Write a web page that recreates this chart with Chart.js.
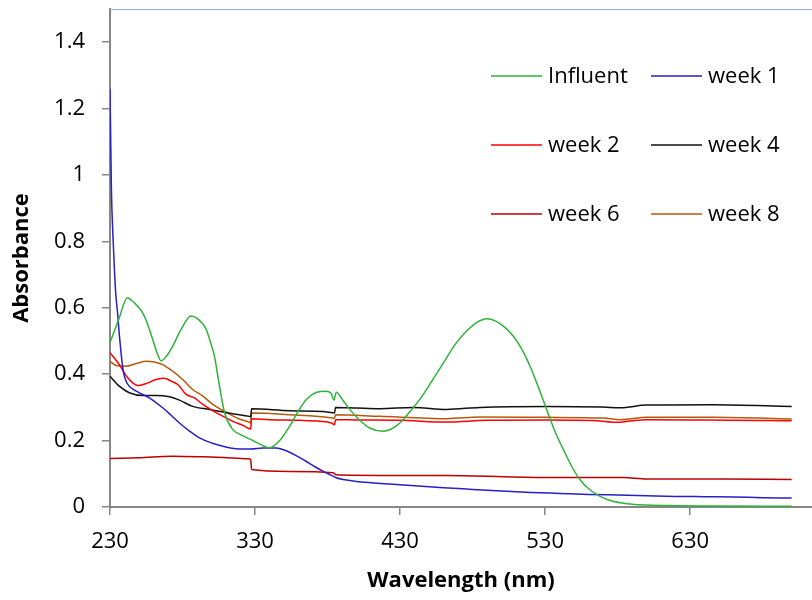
<!DOCTYPE html>
<html>
<head>
<meta charset="utf-8">
<script src="https://cdn.jsdelivr.net/npm/chart.js@4.4.1/dist/chart.umd.min.js"></script>
<style>
html,body{margin:0;padding:0;background:#fff;}
#c{display:block;}
</style>
</head>
<body>
<canvas id="c" width="812" height="600"></canvas>
<script>
// ---------- DATA ----------
const seriesNames = ["Influent", "week 1", "week 2", "week 4", "week 6", "week 8"];
const seriesColors = ["#2fb33a", "#2a1fc4", "#ff0000", "#111111", "#c00000", "#b55a0c"];

const xTickValues = [230, 330, 430, 530, 630];
const yTickValues = [0, 0.2, 0.4, 0.6, 0.8, 1, 1.2, 1.4];

const influentWl = [230, 236, 242, 245, 249, 252.5, 256, 259.4, 262, 265.2, 269, 273.2, 279, 285.9, 291, 296.3, 299, 302, 305.5, 309, 314.7, 320, 326.2, 333, 340, 347, 353.8, 360, 365.4, 372, 379.2, 382.5, 384.4, 386, 390, 395.3, 402, 409, 418.3, 424, 429.8, 436, 443.6, 452, 462, 468, 475.9, 483, 489.7, 496, 502, 508, 514, 519.6, 525, 531.1, 537, 542.6, 548, 554.1, 560, 567.9, 576, 586.4, 600, 620, 650, 700];
const influentAbs = [0.495, 0.565, 0.63, 0.622, 0.605, 0.585, 0.55, 0.505, 0.47, 0.44, 0.455, 0.484, 0.535, 0.575, 0.565, 0.535, 0.5, 0.454, 0.364, 0.284, 0.233, 0.218, 0.205, 0.19, 0.178, 0.2, 0.243, 0.29, 0.324, 0.345, 0.349, 0.342, 0.322, 0.346, 0.325, 0.294, 0.262, 0.238, 0.228, 0.235, 0.253, 0.283, 0.324, 0.38, 0.449, 0.49, 0.53, 0.556, 0.567, 0.56, 0.542, 0.515, 0.475, 0.424, 0.365, 0.293, 0.225, 0.173, 0.125, 0.082, 0.055, 0.032, 0.018, 0.01, 0.006, 0.004, 0.003, 0.002];

const week1Wl = [230, 231, 232, 233, 234, 235.2, 236.4, 237.6, 238.8, 239.9, 241.5, 243.3, 246.5, 250.2, 257.1, 266.3, 272, 277.9, 285, 291.7, 300, 307.8, 313, 319.3, 327, 335.4, 344.6, 349, 353.8, 359, 365.4, 371, 376.8, 382, 386, 392, 399.9, 410, 422.9, 440, 460, 480, 500, 520, 540, 560, 580, 600, 620, 640, 660, 680, 700];
const week1Abs = [1.26, 0.95, 0.82, 0.72, 0.64, 0.585, 0.52, 0.465, 0.42, 0.394, 0.375, 0.364, 0.353, 0.344, 0.329, 0.299, 0.277, 0.253, 0.228, 0.208, 0.193, 0.183, 0.178, 0.175, 0.175, 0.178, 0.178, 0.173, 0.165, 0.153, 0.137, 0.122, 0.108, 0.097, 0.088, 0.082, 0.077, 0.073, 0.069, 0.064, 0.058, 0.053, 0.048, 0.044, 0.041, 0.038, 0.036, 0.034, 0.032, 0.031, 0.03, 0.028, 0.027];

const week2Wl = [230, 236.4, 242.2, 249.1, 254.9, 261.8, 267.5, 272.1, 276.7, 282.5, 288.2, 294, 303.2, 314.7, 322, 327, 327.6, 340, 360, 375, 382.6, 384.8, 385.5, 400, 430, 462, 490, 530, 565, 579.5, 590, 600, 640, 700];
const week2Abs = [0.465, 0.429, 0.389, 0.366, 0.372, 0.384, 0.388, 0.379, 0.369, 0.339, 0.329, 0.309, 0.284, 0.258, 0.245, 0.235, 0.266, 0.263, 0.261, 0.258, 0.253, 0.248, 0.263, 0.262, 0.261, 0.256, 0.261, 0.262, 0.26, 0.255, 0.26, 0.263, 0.262, 0.26];

const week4Wl = [230, 236.4, 243.3, 252.5, 261.8, 271, 277.9, 287, 298.6, 314.7, 326.2, 327, 327.6, 354, 376.8, 383.7, 384.8, 385.5, 400, 416, 439, 462, 485, 531, 570, 581.7, 600, 646, 700];
const week4Abs = [0.394, 0.364, 0.344, 0.336, 0.336, 0.332, 0.322, 0.303, 0.294, 0.281, 0.273, 0.272, 0.296, 0.29, 0.288, 0.284, 0.283, 0.3, 0.298, 0.296, 0.3, 0.294, 0.3, 0.303, 0.301, 0.299, 0.307, 0.308, 0.303];

const week6Wl = [230, 250, 273, 295, 308, 325, 327, 327.6, 354, 383.7, 384.8, 385.5, 423, 462, 531, 584, 600, 650, 700];
const week6Abs = [0.146, 0.148, 0.153, 0.151, 0.149, 0.145, 0.143, 0.113, 0.107, 0.103, 0.101, 0.097, 0.095, 0.095, 0.089, 0.089, 0.084, 0.084, 0.083];

const week8Wl = [230, 234.1, 241, 248, 254.9, 260.6, 266.3, 273.2, 280.1, 287, 294, 300.9, 310.1, 319.3, 326.2, 327, 327.6, 354, 383.7, 384.8, 385.5, 416, 462, 485, 531, 570, 581.7, 600, 646, 700];
const week8Abs = [0.439, 0.426, 0.424, 0.432, 0.439, 0.437, 0.429, 0.409, 0.384, 0.354, 0.334, 0.309, 0.285, 0.265, 0.255, 0.253, 0.283, 0.278, 0.268, 0.267, 0.278, 0.273, 0.266, 0.271, 0.27, 0.268, 0.263, 0.27, 0.27, 0.265];

const seriesWl = [influentWl, week1Wl, week2Wl, week4Wl, week6Wl, week8Wl];
const seriesAbs = [influentAbs, week1Abs, week2Abs, week4Abs, week6Abs, week8Abs];

// ---------- CHART ----------
const FONT = "'Open Sans', 'DejaVu Sans', sans-serif";
const AXIS_COLOR = "#878787";

const datasets = seriesNames.map((name, i) => ({
  label: name,
  data: seriesWl[i].map((w, k) => ({ x: w, y: seriesAbs[i][k] })),
  borderColor: seriesColors[i],
  backgroundColor: seriesColors[i],
  borderWidth: 1.5,
  pointRadius: 0,
  cubicInterpolationMode: 'monotone',
  fill: false
}));

const legendLayout = {
  rows: [76, 145, 214],
  cols: [{ l0: 491, l1: 542, t: 548 }, { l0: 651, l1: 702, t: 708 }]
};

const customLegend = {
  id: 'customLegend',
  afterDraw(chart) {
    const ctx = chart.ctx;
    ctx.save();
    ctx.font = "22px " + FONT;
    ctx.textBaseline = 'middle';
    ctx.textAlign = 'left';
    chart.data.datasets.forEach((ds, i) => {
      const r = Math.floor(i / 2), c = i % 2;
      const y = legendLayout.rows[r];
      const col = legendLayout.cols[c];
      ctx.strokeStyle = ds.borderColor;
      ctx.lineWidth = 1.5;
      ctx.beginPath();
      ctx.moveTo(col.l0, y);
      ctx.lineTo(col.l1, y);
      ctx.stroke();
      ctx.fillStyle = '#000';
      ctx.fillText(ds.label, col.t, y + 1);
    });
    ctx.restore();
  }
};

const topBorder = {
  id: 'topBorder',
  afterDraw(chart) {
    const a = chart.chartArea, ctx = chart.ctx;
    ctx.save();
    ctx.strokeStyle = '#8eaadb';
    ctx.lineWidth = 1;
    ctx.beginPath();
    ctx.moveTo(a.left, a.top + 0.5);
    ctx.lineTo(chart.width, a.top + 0.5);
    ctx.stroke();
    ctx.restore();
  }
};

function noPad(s) {
  s.paddingTop = 0; s.paddingBottom = 0; s.paddingLeft = 0; s.paddingRight = 0;
}

new Chart(document.getElementById('c'), {
  type: 'line',
  data: { datasets },
  plugins: [customLegend, topBorder],
  options: {
    responsive: false,
    animation: false,
    devicePixelRatio: 1,
    layout: { padding: { top: 9, right: 0, left: 0, bottom: 0 } },
    plugins: { legend: { display: false }, tooltip: { enabled: false } },
    scales: {
      x: {
        type: 'linear',
        min: 230,
        max: 714,
        afterFit: s => { s.height = 93; noPad(s); },
        afterBuildTicks: s => { s.ticks = xTickValues.map(v => ({ value: v })); },
        border: { display: true, color: AXIS_COLOR, width: 2 },
        grid: { drawOnChartArea: false, drawTicks: true, tickLength: 8, color: AXIS_COLOR, lineWidth: 1.5 },
        ticks: { color: '#000', font: { family: FONT, size: 22 }, padding: 14, maxRotation: 0, autoSkip: false, callback: v => String(v) },
        title: { display: true, text: 'Wavelength (nm)', color: '#000', font: { family: FONT, size: 22, weight: 'bold' }, padding: { top: 0, bottom: 6 } }
      },
      y: {
        min: 0,
        max: 1.5,
        afterFit: s => { s.width = 110; noPad(s); },
        afterBuildTicks: s => { s.ticks = yTickValues.map(v => ({ value: v })); },
        border: { display: true, color: AXIS_COLOR, width: 2 },
        grid: { drawOnChartArea: false, drawTicks: true, tickLength: 8, color: AXIS_COLOR, lineWidth: 1.5 },
        ticks: { color: '#000', font: { family: FONT, size: 22 }, padding: 17, autoSkip: false, callback: v => String(v) },
        title: { display: true, text: 'Absorbance', color: '#000', font: { family: FONT, size: 22, weight: 'bold' }, padding: { top: 9, bottom: 0 } }
      }
    }
  }
});
</script>
</body>
</html>
